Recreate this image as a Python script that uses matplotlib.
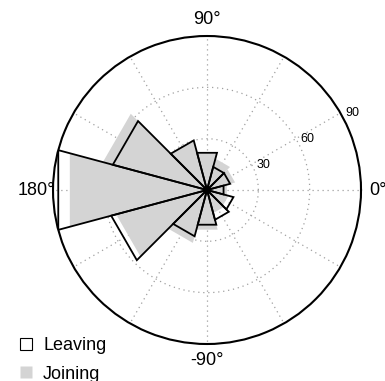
import numpy as np
import matplotlib
matplotlib.use("Agg")
import matplotlib.pyplot as plt
from matplotlib.lines import Line2D

plt.rcParams['font.family'] = ['Liberation Sans', 'DejaVu Sans']

# bin centres (degrees) and counts
bin_centers = [0, 30, 60, 90, 120, 150, 180, 210, 240, 270, 300, 330]
bin_width = 30
leaving = [10, 14, 14, 22.5, 30, 57, 90, 58, 28, 21, 18, 16]
joining = [12, 17, 19, 22, 30, 63, 83, 55, 32, 24, 14, 13]

theta_ticks = list(range(0, 360, 30))
theta_labels = {0: '0°', 90: '90°', 180: '180°', 270: '-90°'}
r_ticks = [30, 60, 90]
r_label_pos = {30: (21, 31), 60: (26, 60.5), 90: (27, 91)}
rmax = 90

fig = plt.figure(figsize=(3.85, 3.81), dpi=100)
ax = fig.add_axes([0.1377, 0.0971, 0.8, 0.8084], projection='polar')
ax.set_theta_zero_location('E')
ax.set_ylim(0, rmax)


def wedge(c, r):
    t1 = np.deg2rad(c - bin_width / 2)
    t2 = np.deg2rad(c + bin_width / 2)
    return [0, t1, t2, 0], [0, r, r, 0]


for c, r in zip(bin_centers, joining):
    t, rr = wedge(c, r)
    ax.fill(t, rr, facecolor='#d4d4d4', edgecolor='none', zorder=2)

for c, r in zip(bin_centers, leaving):
    t, rr = wedge(c, r)
    ax.fill(t, rr, facecolor='none', edgecolor='black', linewidth=1.3, zorder=3)

ax.set_thetagrids(theta_ticks, [theta_labels.get(a, '') for a in theta_ticks], fontsize=13)
ax.tick_params(axis='x', pad=1.5)
ax.set_rgrids(r_ticks, labels=['' for _ in r_ticks])
ax.grid(True, color='#a0a0a0', linestyle=(0, (1, 3)), linewidth=0.9)
ax.spines['polar'].set_linewidth(1.5)
ax.spines['polar'].set_color('black')

for v in r_ticks:
    a, r = r_label_pos[v]
    ax.text(np.deg2rad(a), r, str(v), fontsize=9, ha='left', va='bottom', zorder=4)

handles = [
    Line2D([], [], marker='s', linestyle='none', markersize=8,
           markerfacecolor='white', markeredgecolor='black', markeredgewidth=0.8),
    Line2D([], [], marker='s', linestyle='none', markersize=8,
           markerfacecolor='#d4d4d4', markeredgecolor='none'),
]
fig.legend(handles, ['Leaving', 'Joining'], loc='lower left',
           bbox_to_anchor=(0.043, -0.004), frameon=False, fontsize=13,
           handletextpad=0.47, labelspacing=0.63, handlelength=1.0,
           borderpad=0, borderaxespad=0)

fig.savefig('out.png', dpi=100)
